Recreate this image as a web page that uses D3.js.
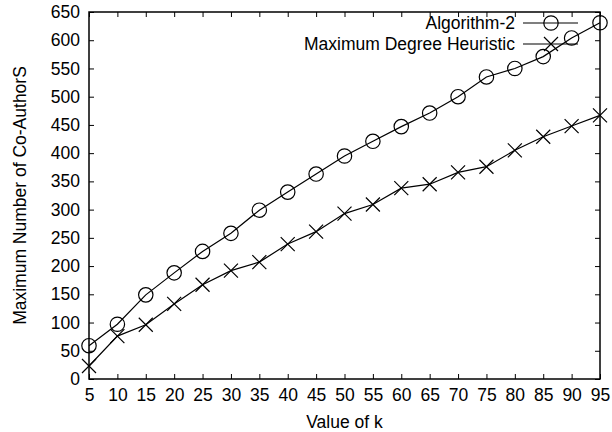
<!DOCTYPE html>
<html>
<head>
<meta charset="utf-8">
<script src="https://cdn.jsdelivr.net/npm/d3@7"></script>
<style>
  body { margin: 0; background: #fff; }
  text { font-family: "Liberation Sans", Arial, sans-serif; font-size: 17.5px; fill: #000; }
</style>
</head>
<body>
<script>
const w = 612;
const h = 432;
const margin = {top: 12, right: 12, bottom: 53, left: 89};

// ----- DATA -----
const kValues = [5, 10, 15, 20, 25, 30, 35, 40, 45, 50, 55, 60, 65, 70, 75, 80, 85, 90, 95];
const algorithm2 = [59, 97, 149, 188, 226, 258, 299, 331, 363, 395, 421, 447, 471, 500, 535, 550, 571, 604, 631];
const maxDegree = [23, 76, 96, 133, 167, 192, 207, 239, 261, 293, 309, 338, 345, 366, 376, 405, 429, 448, 467];
const yTicks = [0, 50, 100, 150, 200, 250, 300, 350, 400, 450, 500, 550, 600, 650];
const seriesNames = ["Algorithm-2", "Maximum Degree Heuristic"];

const svg = d3.select("body").append("svg")
  .attr("width", w)
  .attr("height", h);

const x = d3.scaleLinear().domain([5, 95]).range([margin.left, w - margin.right]);
const y = d3.scaleLinear().domain([0, 650]).range([h - margin.bottom, margin.top]);

// ----- AXES (gnuplot style, ticks inside, mirrored) -----
const tickLen = 5;
svg.append("g")
  .attr("transform", `translate(0,${h - margin.bottom})`)
  .call(d3.axisBottom(x).tickValues(kValues).tickSizeInner(-tickLen).tickSizeOuter(0).tickPadding(10))
  .call(g => g.select(".domain").remove());
svg.append("g")
  .attr("transform", `translate(0,${margin.top})`)
  .call(d3.axisTop(x).tickValues(kValues).tickSizeInner(-tickLen).tickSizeOuter(0).tickFormat(""))
  .call(g => g.select(".domain").remove());
svg.append("g")
  .attr("transform", `translate(${margin.left},0)`)
  .call(d3.axisLeft(y).tickValues(yTicks).tickSizeInner(-tickLen).tickSizeOuter(0).tickPadding(9))
  .call(g => g.select(".domain").remove());
svg.append("g")
  .attr("transform", `translate(${w - margin.right},0)`)
  .call(d3.axisRight(y).tickValues(yTicks).tickSizeInner(-tickLen).tickSizeOuter(0).tickFormat(""))
  .call(g => g.select(".domain").remove());

svg.selectAll(".tick line").attr("stroke", "#000").attr("stroke-width", 1);
svg.selectAll("g").attr("font-size", null).attr("font-family", null);

// border
svg.append("rect")
  .attr("x", margin.left)
  .attr("y", margin.top)
  .attr("width", w - margin.left - margin.right)
  .attr("height", h - margin.top - margin.bottom)
  .attr("fill", "none")
  .attr("stroke", "#000")
  .attr("stroke-width", 1.5);

// ----- AXIS TITLES -----
svg.append("text")
  .attr("x", (margin.left + w - margin.right) / 2)
  .attr("y", 428)
  .attr("text-anchor", "middle")
  .text("Value of k");

svg.append("text")
  .attr("transform", `translate(26,${(margin.top + h - margin.bottom) / 2}) rotate(-90)`)
  .attr("text-anchor", "middle")
  .text("Maximum Number of Co-AuthorS");

// ----- SERIES -----
const line = d3.line().x(d => x(d[0])).y(d => y(d[1]));
const crossPath = s => `M${-s},${-s}L${s},${s}M${-s},${s}L${s},${-s}`;

function drawSeries(values, marker) {
  const pts = kValues.map((k, i) => [k, values[i]]);
  svg.append("path")
    .datum(pts)
    .attr("d", line)
    .attr("fill", "none")
    .attr("stroke", "#000")
    .attr("stroke-width", 1.2);
  const g = svg.append("g");
  pts.forEach(p => drawMarker(g, x(p[0]), y(p[1]), marker));
}

function drawMarker(g, cx, cy, marker) {
  if (marker === "circle") {
    g.append("circle")
      .attr("cx", cx).attr("cy", cy).attr("r", 7.2)
      .attr("fill", "none").attr("stroke", "#000").attr("stroke-width", 1.2);
  } else {
    g.append("path")
      .attr("transform", `translate(${cx},${cy})`)
      .attr("d", crossPath(7))
      .attr("fill", "none").attr("stroke", "#000").attr("stroke-width", 1.2);
  }
}

drawSeries(algorithm2, "circle");
drawSeries(maxDegree, "cross");

// ----- LEGEND -----
const legendRows = [23, 44];
const markers = ["circle", "cross"];
seriesNames.forEach((name, i) => {
  const ly = legendRows[i];
  svg.append("text")
    .attr("x", 515)
    .attr("y", ly)
    .attr("dy", "0.35em")
    .attr("text-anchor", "end")
    .text(name);
  svg.append("line")
    .attr("x1", 523).attr("x2", 578)
    .attr("y1", ly).attr("y2", ly)
    .attr("stroke", "#000").attr("stroke-width", 1.2);
  drawMarker(svg, 551, ly, markers[i]);
});
</script>
</body>
</html>
